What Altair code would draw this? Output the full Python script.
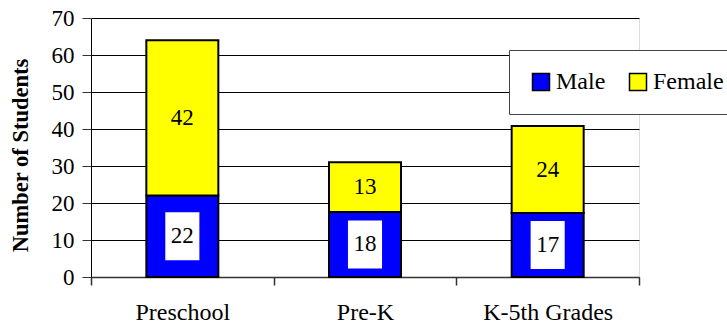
import altair as alt
import pandas as pd

categories = ["Preschool", "Pre-K", "K-5th Grades"]
male = [22, 17.6, 17.3]
female = [42, 13.4, 23.5]
series = ["Male", "Female"]
colors = ["#0000FF", "#FFFF00"]
y_ticks = [0, 10, 20, 30, 40, 50, 60, 70]

rows = []
for c, m, f in zip(categories, male, female):
    rows.append({"category": c, "sex": "Male", "value": m, "order": 0})
    rows.append({"category": c, "sex": "Female", "value": f, "order": 1})
df = pd.DataFrame(rows)

FONT = "Liberation Serif"

base = alt.Chart(df).transform_stack(
    stack="value", groupby=["category"], as_=["y0", "y1"],
    sort=[alt.SortField("order", order="ascending")]
).transform_calculate(mid="(datum.y0 + datum.y1) / 2")

x_axis = alt.Axis(tickBand="extent", labelAngle=0, labelFont=FONT,
                  labelFontSize=24, labelColor="black",
                  labelBaseline="alphabetic", labelPadding=34,
                  tickSize=8, tickColor="#333", tickWidth=1.5,
                  domainColor="#333", domainWidth=1.5, grid=False)
x_scale = alt.Scale(paddingInner=0, paddingOuter=0)
y_axis = alt.Axis(values=y_ticks, grid=True, gridColor="black",
                  gridWidth=1, tickSize=9, tickColor="#333",
                  domainColor="black", labelFont=FONT,
                  labelFontSize=23, labelColor="black", labelOverlap=False,
                  labelPadding=8, titleFont=FONT, titleFontSize=22.5,
                  titleFontWeight="bold", titleColor="black",
                  titleAngle=-90, titleBaseline="alphabetic",
                  titleX=-64, titleY=137)
y_scale = alt.Scale(domain=[0, 70], nice=False)
Y_TITLE = "Number of Students"


def xenc():
    return alt.X("category:N", sort=categories, title=None,
                 scale=x_scale, axis=x_axis)


bars = base.mark_bar(stroke="black", strokeWidth=2, size=72).encode(
    x=xenc(),
    y=alt.Y("y0:Q", scale=y_scale, title=Y_TITLE, axis=y_axis),
    y2="y1:Q",
    color=alt.Color("sex:N", scale=alt.Scale(domain=series, range=colors),
                    sort=series,
                    legend=alt.Legend(title=None, orient="none", legendX=418,
                                      legendY=32, direction="horizontal",
                                      fillColor="white", strokeColor="#444",
                                      padding=20,
                                      symbolType="square", symbolSize=289,
                                      symbolStrokeColor="black",
                                      symbolStrokeWidth=1.5, symbolOpacity=1,
                                      labelFont=FONT, labelFontSize=24,
                                      labelColor="black", labelOffset=3,
                                      columnPadding=20)),
)

boxes = base.transform_filter("datum.sex == 'Male'").mark_point(
    shape="M-0.71,-1H0.71V1H-0.71Z", filled=True, fill="white",
    opacity=1, strokeWidth=0, size=2304
).encode(x=xenc(), y=alt.Y("mid:Q", scale=y_scale, title=Y_TITLE, axis=y_axis))

labels = base.mark_text(font=FONT, fontSize=23, color="black",
                        baseline="middle").encode(
    x=xenc(),
    y=alt.Y("mid:Q", scale=y_scale, title=Y_TITLE, axis=y_axis),
    text=alt.Text("value:Q", format=".0f"),
)

chart = alt.layer(bars, boxes, labels).properties(
    width=548, height=259,
    autosize=alt.AutoSizeParams(type="none"),
    padding={"left": 91, "top": 18, "right": 88, "bottom": 48},
).configure_view(stroke="black", strokeWidth=1).configure_legend(
    strokeWidth=1.5
).configure(background="white")

chart.save("out.html", embed_options={"renderer": "svg", "actions": False})
